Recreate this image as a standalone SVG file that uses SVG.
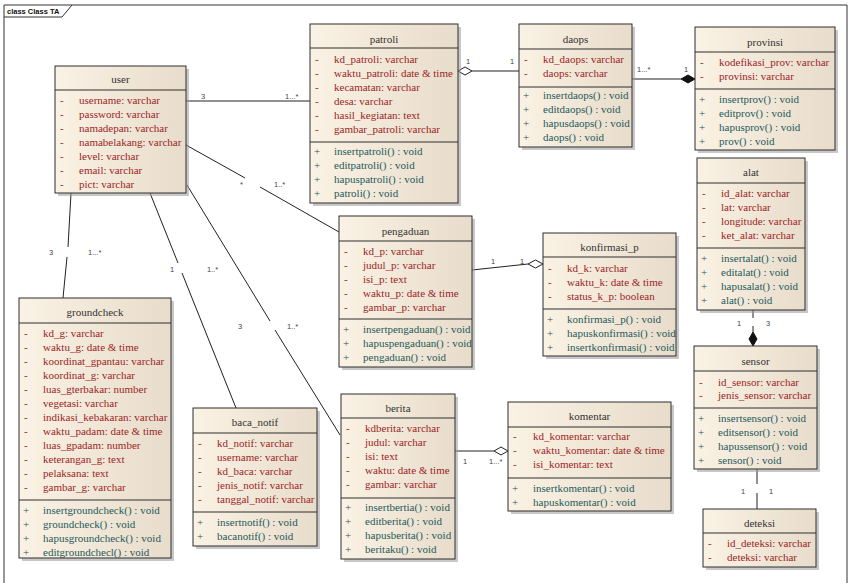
<svg xmlns="http://www.w3.org/2000/svg" width="855" height="583" viewBox="0 0 855 583" xml:space="preserve">
<defs>
<linearGradient id="g" x1="0" y1="0" x2="1" y2="0"><stop offset="0" stop-color="#faf2e4"/><stop offset="1" stop-color="#e8dccb"/></linearGradient>
<style>
.box{fill:url(#g);stroke:#2e2e2e;stroke-width:1}
.sh{fill:#9a9a9a;opacity:.55}
.dv{stroke:#2e2e2e;stroke-width:1}
.t{font-family:"Liberation Serif","Times New Roman",serif;font-size:11px}
.ti{fill:#333;text-anchor:middle}
.a{fill:#9b2525}
.o{fill:#1f5a5c}
.m{font-family:"Liberation Sans",Arial,sans-serif;font-size:7.5px;fill:#444}
.ln{stroke:#222;stroke-width:1;fill:none}
.hd{fill:#fff;stroke:#222;stroke-width:1}
.fd{fill:#111;stroke:#111;stroke-width:1}
</style>
</defs>
<rect width="855" height="583" fill="#fff"/>
<g id="frame">
<path d="M4 583V5H847V583" fill="none" stroke="#333" stroke-width="1"/>
<path d="M4 17H62L72 5" fill="none" stroke="#333" stroke-width="1"/>
<text x="7" y="14" font-family="Liberation Sans,Arial,sans-serif" font-size="7.5" font-weight="bold" fill="#111">class Class TA</text>
</g>
<g id="connectors">
<line class="ln" x1="186" y1="101" x2="310" y2="101"/>
<text class="m" x="201" y="99">3</text><text class="m" x="285" y="99">1...*</text>
<line class="ln" x1="186" y1="145" x2="245" y2="178"/><line class="ln" x1="260" y1="187" x2="339" y2="232"/>
<text class="m" x="240" y="187">*</text><text class="m" x="274" y="187">1..*</text>
<line class="ln" x1="187" y1="185" x2="270" y2="321"/><line class="ln" x1="275" y1="330" x2="340" y2="435"/>
<text class="m" x="238" y="329">3</text><text class="m" x="287" y="329">1..*</text>
<line class="ln" x1="150" y1="193" x2="178" y2="263"/><line class="ln" x1="182" y1="273" x2="236" y2="408"/>
<text class="m" x="170" y="272">1</text><text class="m" x="207" y="272">1..*</text>
<line class="ln" x1="71" y1="193" x2="68" y2="247"/><line class="ln" x1="67" y1="257" x2="63" y2="298"/>
<text class="m" x="49" y="255">3</text><text class="m" x="88" y="255">1...*</text>
<line class="ln" x1="472" y1="71" x2="519" y2="71"/>
<polygon class="hd" points="458,71 465,67 472,71 465,75"/>
<text class="m" x="466" y="64">1</text><text class="m" x="510" y="64">1</text>
<line class="ln" x1="632" y1="79" x2="681" y2="79"/>
<polygon class="fd" points="681,79 688,75 695,79 688,83"/>
<text class="m" x="637" y="72">1...*</text><text class="m" x="684" y="72">1</text>
<line class="ln" x1="472" y1="270" x2="528" y2="264"/>
<polygon class="hd" points="528,264 535.5,260 543,264 535.5,268"/>
<text class="m" x="491" y="264">1</text><text class="m" x="520" y="264">1</text>
<line class="ln" x1="455" y1="451" x2="494" y2="451"/>
<polygon class="hd" points="494,451 501,447 508,451 501,455"/>
<text class="m" x="463" y="464">1</text><text class="m" x="489" y="464">1...*</text>
<line class="ln" x1="753" y1="310" x2="753" y2="318"/><line class="ln" x1="753" y1="326" x2="753" y2="332"/>
<polygon class="fd" points="753,332 749,339 753,346 757,339"/>
<text class="m" x="737" y="326">1</text><text class="m" x="766" y="326">3</text>
<line class="ln" x1="757" y1="469" x2="757" y2="484"/><line class="ln" x1="757" y1="493" x2="757" y2="509"/>
<text class="m" x="741" y="494">1</text><text class="m" x="769" y="494">1</text>
</g>
<g id="user" class="t">
<rect class="sh" x="58" y="69" width="131" height="127"/>
<rect class="box" x="55" y="66" width="131" height="127"/>
<line class="dv" x1="55" y1="90" x2="186" y2="90"/>
<text class="ti" x="120.5" y="83">user</text>
<g class="a"><text x="60" y="104">-</text><text x="79" y="104">username:  varchar</text>
<text x="60" y="118">-</text><text x="79" y="118">password:  varchar</text>
<text x="60" y="132">-</text><text x="79" y="132">namadepan:  varchar</text>
<text x="60" y="146">-</text><text x="79" y="146">namabelakang:  varchar</text>
<text x="60" y="160">-</text><text x="79" y="160">level:  varchar</text>
<text x="60" y="174">-</text><text x="79" y="174">email:  varchar</text>
<text x="60" y="188">-</text><text x="79" y="188">pict:  varchar</text></g>
</g>
<g id="patroli" class="t">
<rect class="sh" x="313" y="27" width="148" height="179"/>
<rect class="box" x="310" y="24" width="148" height="179"/>
<line class="dv" x1="310" y1="48" x2="458" y2="48"/>
<line class="dv" x1="310" y1="142" x2="458" y2="142"/>
<text class="ti" x="384" y="43">patroli</text>
<g class="a"><text x="315" y="63">-</text><text x="334" y="63">kd_patroli:  varchar</text>
<text x="315" y="77">-</text><text x="334" y="77">waktu_patroli:  date &amp; time</text>
<text x="315" y="91">-</text><text x="334" y="91">kecamatan:  varchar</text>
<text x="315" y="105">-</text><text x="334" y="105">desa:  varchar</text>
<text x="315" y="119">-</text><text x="334" y="119">hasil_kegiatan:  text</text>
<text x="315" y="133">-</text><text x="334" y="133">gambar_patroli:  varchar</text></g>
<g class="o"><text x="314" y="155">+</text><text x="334" y="155">insertpatroli() : void</text>
<text x="314" y="169">+</text><text x="334" y="169">editpatroli() : void</text>
<text x="314" y="183">+</text><text x="334" y="183">hapuspatroli() : void</text>
<text x="314" y="197">+</text><text x="334" y="197">patroli() : void</text></g>
</g>
<g id="daops" class="t">
<rect class="sh" x="522" y="27" width="113" height="123"/>
<rect class="box" x="519" y="24" width="113" height="123"/>
<line class="dv" x1="519" y1="49" x2="632" y2="49"/>
<line class="dv" x1="519" y1="87" x2="632" y2="87"/>
<text class="ti" x="575.5" y="43">daops</text>
<g class="a"><text x="524" y="63">-</text><text x="543" y="63">kd_daops:  varchar</text>
<text x="524" y="77">-</text><text x="543" y="77">daops:  varchar</text></g>
<g class="o"><text x="523" y="99">+</text><text x="543" y="99">insertdaops() : void</text>
<text x="523" y="113">+</text><text x="543" y="113">editdaops() : void</text>
<text x="523" y="127">+</text><text x="543" y="127">hapusdaops() : void</text>
<text x="523" y="141">+</text><text x="543" y="141">daops() : void</text></g>
</g>
<g id="provinsi" class="t">
<rect class="sh" x="698" y="30" width="140" height="123"/>
<rect class="box" x="695" y="27" width="140" height="123"/>
<line class="dv" x1="695" y1="52" x2="835" y2="52"/>
<line class="dv" x1="695" y1="89" x2="835" y2="89"/>
<text class="ti" x="765" y="46">provinsi</text>
<g class="a"><text x="700" y="66">-</text><text x="719" y="66">kodefikasi_prov:  varchar</text>
<text x="700" y="80">-</text><text x="719" y="80">provinsi:  varchar</text></g>
<g class="o"><text x="699" y="103">+</text><text x="719" y="103">insertprov() : void</text>
<text x="699" y="117">+</text><text x="719" y="117">editprov() : void</text>
<text x="699" y="131">+</text><text x="719" y="131">hapusprov() : void</text>
<text x="699" y="145">+</text><text x="719" y="145">prov() : void</text></g>
</g>
<g id="alat" class="t">
<rect class="sh" x="700" y="161" width="108" height="152"/>
<rect class="box" x="697" y="158" width="108" height="152"/>
<line class="dv" x1="697" y1="183" x2="805" y2="183"/>
<line class="dv" x1="697" y1="248" x2="805" y2="248"/>
<text class="ti" x="751" y="176">alat</text>
<g class="a"><text x="702" y="197">-</text><text x="721" y="197">id_alat:  varchar</text>
<text x="702" y="211">-</text><text x="721" y="211">lat:  varchar</text>
<text x="702" y="225">-</text><text x="721" y="225">longitude:  varchar</text>
<text x="702" y="239">-</text><text x="721" y="239">ket_alat:  varchar</text></g>
<g class="o"><text x="701" y="262">+</text><text x="721" y="262">insertalat() : void</text>
<text x="701" y="276">+</text><text x="721" y="276">editalat() : void</text>
<text x="701" y="290">+</text><text x="721" y="290">hapusalat() : void</text>
<text x="701" y="304">+</text><text x="721" y="304">alat() : void</text></g>
</g>
<g id="sensor" class="t">
<rect class="sh" x="697" y="349" width="123" height="123"/>
<rect class="box" x="694" y="346" width="123" height="123"/>
<line class="dv" x1="694" y1="371" x2="817" y2="371"/>
<line class="dv" x1="694" y1="408" x2="817" y2="408"/>
<text class="ti" x="755.5" y="365">sensor</text>
<g class="a"><text x="699" y="386">-</text><text x="718" y="386">id_sensor:  varchar</text>
<text x="699" y="399">-</text><text x="718" y="399">jenis_sensor:  varchar</text></g>
<g class="o"><text x="698" y="422">+</text><text x="718" y="422">insertsensor() : void</text>
<text x="698" y="436">+</text><text x="718" y="436">editsensor() : void</text>
<text x="698" y="450">+</text><text x="718" y="450">hapussensor() : void</text>
<text x="698" y="464">+</text><text x="718" y="464">sensor() : void</text></g>
</g>
<g id="deteksi" class="t">
<rect class="sh" x="706" y="512" width="113" height="58"/>
<rect class="box" x="703" y="509" width="113" height="58"/>
<line class="dv" x1="703" y1="533" x2="816" y2="533"/>
<text class="ti" x="759.5" y="527">deteksi</text>
<g class="a"><text x="708" y="547">-</text><text x="727" y="547">id_deteksi:  varchar</text>
<text x="708" y="561">-</text><text x="727" y="561">deteksi:  varchar</text></g>
</g>
<g id="pengaduan" class="t">
<rect class="sh" x="342" y="219" width="133" height="151"/>
<rect class="box" x="339" y="216" width="133" height="151"/>
<line class="dv" x1="339" y1="241" x2="472" y2="241"/>
<line class="dv" x1="339" y1="319" x2="472" y2="319"/>
<text class="ti" x="405.5" y="235">pengaduan</text>
<g class="a"><text x="344" y="255">-</text><text x="363" y="255">kd_p:  varchar</text>
<text x="344" y="269">-</text><text x="363" y="269">judul_p:  varchar</text>
<text x="344" y="283">-</text><text x="363" y="283">isi_p:  text</text>
<text x="344" y="297">-</text><text x="363" y="297">waktu_p:  date &amp; time</text>
<text x="344" y="311">-</text><text x="363" y="311">gambar_p:  varchar</text></g>
<g class="o"><text x="343" y="333">+</text><text x="363" y="333">insertpengaduan() : void</text>
<text x="343" y="347">+</text><text x="363" y="347">hapuspengaduan() : void</text>
<text x="343" y="361">+</text><text x="363" y="361">pengaduan() : void</text></g>
</g>
<g id="konfirmasi_p" class="t">
<rect class="sh" x="546" y="236" width="133" height="123"/>
<rect class="box" x="543" y="233" width="133" height="123"/>
<line class="dv" x1="543" y1="257" x2="676" y2="257"/>
<line class="dv" x1="543" y1="309" x2="676" y2="309"/>
<text class="ti" x="609.5" y="251">konfirmasi_p</text>
<g class="a"><text x="548" y="272">-</text><text x="567" y="272">kd_k:  varchar</text>
<text x="548" y="286">-</text><text x="567" y="286">waktu_k:  date &amp; time</text>
<text x="548" y="300">-</text><text x="567" y="300">status_k_p:  boolean</text></g>
<g class="o"><text x="547" y="323">+</text><text x="567" y="323">konfirmasi_p() : void</text>
<text x="547" y="337">+</text><text x="567" y="337">hapuskonfirmasi() : void</text>
<text x="547" y="351">+</text><text x="567" y="351">insertkonfirmasi() : void</text></g>
</g>
<g id="groundcheck" class="t">
<rect class="sh" x="22" y="301" width="152" height="260"/>
<rect class="box" x="19" y="298" width="152" height="260"/>
<line class="dv" x1="19" y1="323" x2="171" y2="323"/>
<line class="dv" x1="19" y1="500" x2="171" y2="500"/>
<text class="ti" x="95" y="316">groundcheck</text>
<g class="a"><text x="24" y="337">-</text><text x="43" y="337">kd_g:  varchar</text>
<text x="24" y="351">-</text><text x="43" y="351">waktu_g:  date &amp;  time</text>
<text x="24" y="365">-</text><text x="43" y="365">koordinat_gpantau:  varchar</text>
<text x="24" y="379">-</text><text x="43" y="379">koordinat_g:  varchar</text>
<text x="24" y="393">-</text><text x="43" y="393">luas_gterbakar:  number</text>
<text x="24" y="407">-</text><text x="43" y="407">vegetasi:  varchar</text>
<text x="24" y="421">-</text><text x="43" y="421">indikasi_kebakaran:  varchar</text>
<text x="24" y="435">-</text><text x="43" y="435">waktu_padam:  date &amp; time</text>
<text x="24" y="449">-</text><text x="43" y="449">luas_gpadam:  number</text>
<text x="24" y="463">-</text><text x="43" y="463">keterangan_g:  text</text>
<text x="24" y="477">-</text><text x="43" y="477">pelaksana:  text</text>
<text x="24" y="491">-</text><text x="43" y="491">gambar_g:  varchar</text></g>
<g class="o"><text x="23" y="514">+</text><text x="43" y="514">insertgroundcheck() : void</text>
<text x="23" y="528">+</text><text x="43" y="528">groundcheck() : void</text>
<text x="23" y="542">+</text><text x="43" y="542">hapusgroundcheck() : void</text>
<text x="23" y="556">+</text><text x="43" y="556">editgroundchecl() : void</text></g>
</g>
<g id="baca_notif" class="t">
<rect class="sh" x="196" y="411" width="124" height="138"/>
<rect class="box" x="193" y="408" width="124" height="138"/>
<line class="dv" x1="193" y1="433" x2="317" y2="433"/>
<line class="dv" x1="193" y1="512" x2="317" y2="512"/>
<text class="ti" x="255" y="426">baca_notif</text>
<g class="a"><text x="198" y="447">-</text><text x="217" y="447">kd_notif:  varchar</text>
<text x="198" y="461">-</text><text x="217" y="461">username:  varchar</text>
<text x="198" y="475">-</text><text x="217" y="475">kd_baca:  varchar</text>
<text x="198" y="489">-</text><text x="217" y="489">jenis_notif:  varchar</text>
<text x="198" y="503">-</text><text x="217" y="503">tanggal_notif:  varchar</text></g>
<g class="o"><text x="197" y="526">+</text><text x="217" y="526">insertnotif() : void</text>
<text x="197" y="540">+</text><text x="217" y="540">bacanotif() : void</text></g>
</g>
<g id="berita" class="t">
<rect class="sh" x="344" y="397" width="114" height="165"/>
<rect class="box" x="341" y="394" width="114" height="165"/>
<line class="dv" x1="341" y1="418" x2="455" y2="418"/>
<line class="dv" x1="341" y1="498" x2="455" y2="498"/>
<text class="ti" x="398" y="412">berita</text>
<g class="a"><text x="346" y="432">-</text><text x="365" y="432">kdberita:  varchar</text>
<text x="346" y="446">-</text><text x="365" y="446">judul:  varchar</text>
<text x="346" y="460">-</text><text x="365" y="460">isi:  text</text>
<text x="346" y="474">-</text><text x="365" y="474">waktu:  date &amp; time</text>
<text x="346" y="488">-</text><text x="365" y="488">gambar:  varchar</text></g>
<g class="o"><text x="345" y="511">+</text><text x="365" y="511">insertbertia() : void</text>
<text x="345" y="525">+</text><text x="365" y="525">editberita() : void</text>
<text x="345" y="539">+</text><text x="365" y="539">hapusberita() : void</text>
<text x="345" y="553">+</text><text x="365" y="553">beritaku() : void</text></g>
</g>
<g id="komentar" class="t">
<rect class="sh" x="511" y="405" width="163" height="109"/>
<rect class="box" x="508" y="402" width="163" height="109"/>
<line class="dv" x1="508" y1="427" x2="671" y2="427"/>
<line class="dv" x1="508" y1="478" x2="671" y2="478"/>
<text class="ti" x="589.5" y="420">komentar</text>
<g class="a"><text x="513" y="440">-</text><text x="533" y="440">kd_komentar:  varchar</text>
<text x="513" y="454">-</text><text x="533" y="454">waktu_komentar:  date &amp; time</text>
<text x="513" y="468">-</text><text x="533" y="468">isi_komentar:  text</text></g>
<g class="o"><text x="512" y="492">+</text><text x="533" y="492">insertkomentar() : void</text>
<text x="512" y="506">+</text><text x="533" y="506">hapuskomentar() : void</text></g>
</g>
</svg>
